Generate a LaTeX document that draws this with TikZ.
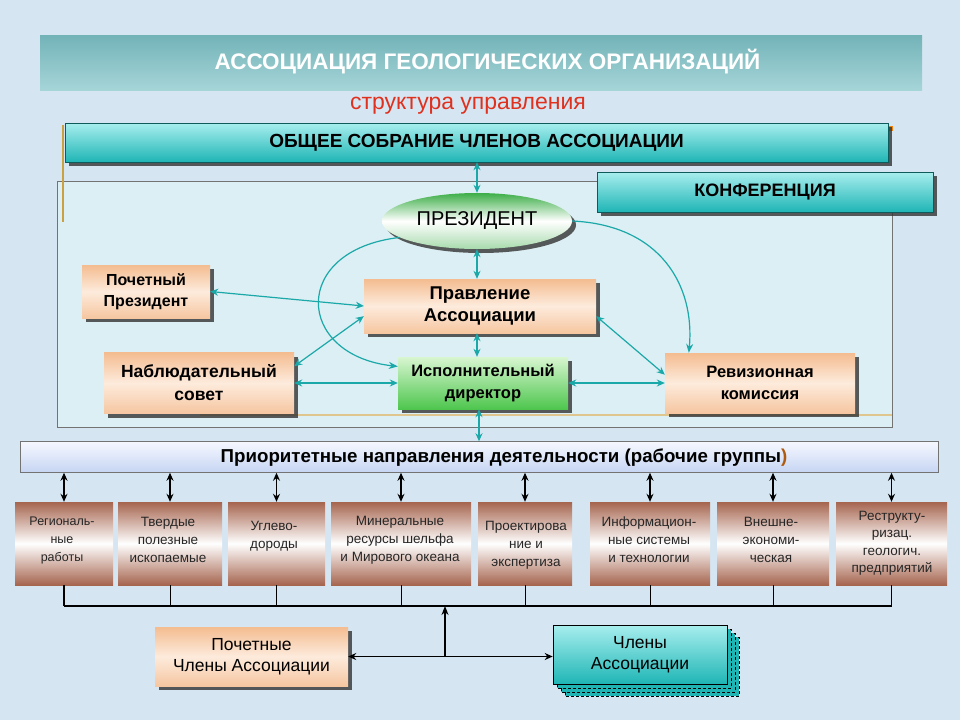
\documentclass[tikz,border=0pt]{standalone}
\usepackage{fontspec}
\setmainfont{Liberation Sans}
\usetikzlibrary{shapes.geometric,shadows,arrows.meta}
\definecolor{bgblue}{HTML}{D5E6F2}
\definecolor{framefill}{HTML}{DCEFF4}
\definecolor{tealdark}{HTML}{1FB5B5}
\definecolor{teallight}{HTML}{A8EEEE}
\definecolor{titletop}{HTML}{72B3B8}
\definecolor{titlebot}{HTML}{A6D5D8}
\definecolor{peachtop}{HTML}{F4BC90}
\definecolor{peachmid}{HTML}{FDEBDC}
\definecolor{greentop}{HTML}{D8F6D0}
\definecolor{greenbot}{HTML}{4EC64E}
\definecolor{presgreen}{HTML}{3DAE48}
\definecolor{brownbox}{HTML}{A6654F}
\definecolor{arrowteal}{HTML}{1AA8A8}
\definecolor{redtext}{HTML}{E0301E}
\definecolor{gold}{HTML}{C9A042}
\definecolor{priotop}{HTML}{F6F8FF}
\definecolor{priobot}{HTML}{C6D5F3}
\definecolor{parbrown}{HTML}{B05A10}
\begin{document}
\begin{tikzpicture}[x=1pt,y=-1pt,
  shad/.style={drop shadow={shadow xshift=4pt,shadow yshift=-4pt,fill=black!80,opacity=0.8}},
  nd/.style={inner sep=0pt,align=center},
  tealbar/.style={nd,shad,top color=teallight,bottom color=tealdark,draw=tealdark!50!black,line width=0.4pt},
  peachbox/.style={nd,shad,top color=peachtop,bottom color=peachtop!85!white,middle color=peachmid},
  greenbox/.style={nd,shad,top color=greentop,bottom color=greenbot},
  grp/.style={nd,top color=brownbox,bottom color=brownbox,middle color=white,minimum height=83pt},
  gtxt/.style={nd,font=\fontsize{13.5}{18}\selectfont,text=black!85},
  tarr/.style={arrowteal,line width=1.2pt},
  tip/.style={{Stealth[length=8pt,width=7pt]}-{Stealth[length=8pt,width=7pt]}},
  etip/.style={-{Stealth[length=9pt,width=7pt]}},
  barr/.style={black,line width=1.4pt,{Stealth[length=8pt,width=7pt]}-{Stealth[length=8pt,width=7pt]}}
]
\useasboundingbox (0,0) rectangle (960,720);
\fill[bgblue] (0,0) rectangle (960,720);

% title
\node[nd,minimum width=882pt,minimum height=55pt,top color=titletop,bottom color=titlebot] (title) at (481,62.5) {};
\node[nd,text=white,font=\bfseries\fontsize{22.5}{26}\selectfont] (titletext) at (487.5,62) {АССОЦИАЦИЯ ГЕОЛОГИЧЕСКИХ ОРГАНИЗАЦИЙ};
\node[nd,text=redtext,font=\fontsize{23}{26}\selectfont] (sub) at (468,106) {структура управления};

% inner frame
\draw[fill=framefill,draw=black!55,line width=0.5pt] (57,181) rectangle (892,427);
\draw[gold,line width=1.2pt] (63,125) -- (63,222);
\draw[gold!60!white,line width=1.5pt] (200,415) -- (892,415);
\fill[orange!80!brown] (888,126) rectangle (893,131);

% top bar and conference
\node[tealbar,minimum width=823pt,minimum height=39pt,font=\bfseries\fontsize{19}{22}\selectfont] (gen) at (476.5,142.5) {ОБЩЕЕ СОБРАНИЕ ЧЛЕНОВ АССОЦИАЦИИ};
\node[tealbar,minimum width=336pt,minimum height=40pt,font=\bfseries\fontsize{18}{22}\selectfont] (conf) at (765,192) {КОНФЕРЕНЦИЯ};

% president
\node[ellipse,nd,shad,minimum width=190pt,minimum height=56pt,top color=presgreen,bottom color=presgreen!45!white,middle color=white,font=\fontsize{20}{24}\selectfont] (pres) at (477,221) {ПРЕЗИДЕНТ};

% boxes
\node[peachbox,minimum width=128pt,minimum height=53pt,font=\bfseries\fontsize{16}{21}\selectfont] (pp) at (146,291.5) {Почетный\\Президент};
\node[peachbox,minimum width=232pt,minimum height=54pt,font=\bfseries\fontsize{18.5}{22}\selectfont] (prav) at (480,306) {Правление\\Ассоциации};
\node[peachbox,minimum width=190pt,minimum height=61pt,font=\bfseries\fontsize{17.5}{23}\selectfont] (nab) at (199,383) {Наблюдательный\\совет};
\node[greenbox,minimum width=170pt,minimum height=52pt,font=\bfseries\fontsize{16.5}{22}\selectfont] (isp) at (483,383) {Исполнительный\\директор};
\node[peachbox,minimum width=190pt,minimum height=60pt,font=\bfseries\fontsize{16.5}{22}\selectfont] (rev) at (760,383) {Ревизионная\\комиссия};

% teal arrows
\draw[tarr,tip] (gen.south -| pres.north) -- (pres.north);
\draw[tarr,tip] (pres.south) -- (pres.south |- prav.north);
\draw[tarr,tip] (pp.east) -- (prav.west);
\draw[tarr,tip] (nab.10) -- (prav.185);
\draw[tarr,tip] (nab.east) -- (isp.west);
\draw[tarr,tip] (isp.east) -- (rev.west);
\draw[tarr,tip] (prav.355) -- (rev.175);
\draw[tarr,tip] (prav.south -| pres.south) -- (isp.north -| pres.south);
\draw[tarr,etip] (pres.192) .. controls (290,250) and (295,355) .. (isp.169);
\draw[tarr,etip] (pres.east) .. controls (660,225) and (695,285) .. (rev.157);

% priorities bar
\node[nd,minimum width=918pt,minimum height=31pt,top color=priotop,bottom color=priobot,draw=black!55,line width=0.5pt] (prio) at (479,457) {};
\node[nd,font=\bfseries\fontsize{18.7}{22}\selectfont] (priotext) at (504,458) {Приоритетные направления деятельности (рабочие группы\textcolor{parbrown}{)}};
\draw[tarr,tip] (isp.south -| prio.north) -- (prio.north);

% groups
\node[grp,minimum width=98pt] (g1) at (64,543.5) {};
\node[grp,minimum width=104pt] (g2) at (170,543.5) {};
\node[grp,minimum width=97pt] (g3) at (276.5,543.5) {};
\node[grp,minimum width=140pt] (g4) at (401,543.5) {};
\node[grp,minimum width=94pt] (g5) at (525,543.5) {};
\node[grp,minimum width=120pt] (g6) at (650,543.5) {};
\node[grp,minimum width=112pt] (g7) at (773,543.5) {};
\node[grp,minimum width=111pt] (g8) at (891.5,543.5) {};
\node[gtxt,font=\fontsize{12.5}{18}\selectfont] at (62,540) {Региональ-\\ные\\работы};
\node[gtxt] at (168,540) {Твердые\\полезные\\ископаемые};
\node[gtxt] at (274,536) {Углево-\\дороды};
\node[gtxt] at (400,540) {Минеральные\\ресурсы шельфа\\и Мирового океана};
\node[gtxt] at (526,545) {Проектирова\\ние и\\экспертиза};
\node[gtxt] at (649,540) {Информацион-\\ные системы\\и технологии};
\node[gtxt] at (771,540) {Внешне-\\экономи-\\ческая};
\node[gtxt,font=\fontsize{13.5}{17.5}\selectfont] at (892,543) {Реструкту-\\ризац.\\геологич.\\предприятий};

\foreach \g in {g1,g2,g3,g4,g5,g6,g7,g8}{
  \draw[barr] (prio.south -| \g.north) -- (\g.north);
}

% bus
\coordinate (bus) at (59,606);
\draw[black,line width=1.3pt] (g1.south) -- (g1.south |- bus);
\foreach \g in {g2,g3,g4,g5,g6,g7}{
  \draw[black,line width=0.6pt] (\g.south) -- (\g.south |- bus);
}
\draw[black,line width=1.3pt] (g8.south) -- (g8.south |- bus);
\draw[black,line width=1.3pt] (g1.south |- bus) -- (g8.south |- bus);

% members
\node[peachbox,minimum width=193pt,minimum height=59pt,font=\fontsize{17.5}{21}\selectfont] (pcz) at (251.5,656.5) {Почетные\\Члены Ассоциации};
\foreach \o in {12,8,4}{
  \draw[fill=tealdark,draw=black,densely dashed,line width=0.6pt] (553+\o,625+\o) rectangle (727+\o,684+\o);
}
\node[nd,minimum width=174pt,minimum height=59pt,top color=teallight,bottom color=tealdark,draw=black,line width=0.6pt,font=\fontsize{17.5}{21}\selectfont] (chl) at (640,654.5) {Члены\\Ассоциации};
\coordinate (mid) at (445,657);
\draw[barr] (pcz.east) -- (chl.west |- pcz.east);
\draw[black,line width=1.3pt,-{Stealth[length=9pt,width=7pt]}] (mid) -- (mid |- bus);
\end{tikzpicture}
\end{document}
